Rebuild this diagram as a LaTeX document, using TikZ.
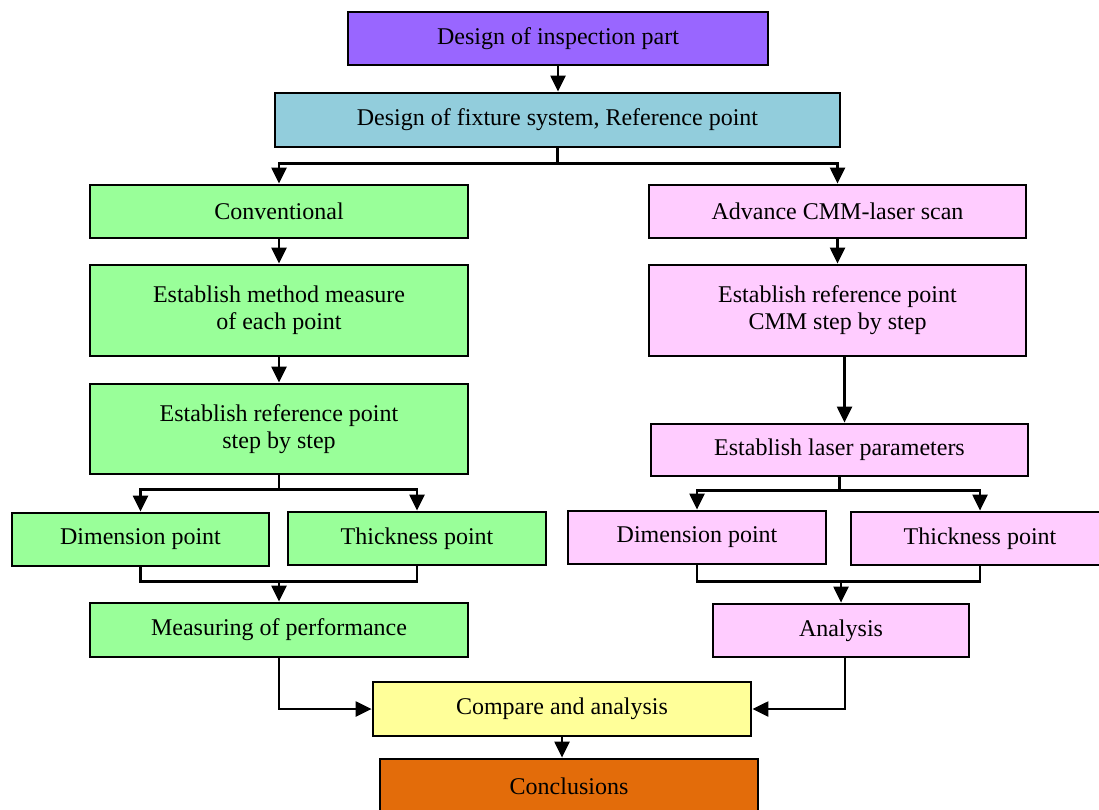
\documentclass[tikz,border=0pt]{standalone}
\usepackage{fontspec}
\setmainfont{Liberation Serif}
\usetikzlibrary{arrows.meta}
\definecolor{cpurple}{HTML}{9966FF}
\definecolor{cblue}{HTML}{92CDDC}
\definecolor{cgreen}{HTML}{99FF99}
\definecolor{cpink}{HTML}{FFCCFF}
\definecolor{cyellow}{HTML}{FFFF99}
\definecolor{corange}{HTML}{E36C0A}
\tikzset{
  box/.style={draw=black, line width=2.8pt, align=center, inner sep=0pt,
    font=\fontsize{24}{27}\selectfont, text=black},
  conn/.style={line width=2.3pt, draw=black},
  arr/.style={conn, -{Triangle[length=16pt,width=15pt]}}
}
\begin{document}
\begin{tikzpicture}[x=1pt,y=-1pt]
\useasboundingbox (0,0) rectangle (1099,810);
\node[box, fill=cpurple, minimum width=420pt, minimum height=53pt] (n1) at (558,38.5) {Design of inspection part};
\node[box, fill=cblue, minimum width=565pt, minimum height=54pt] (n2) at (557.5,120) {Design of fixture system, Reference point};
\node[box, fill=cgreen, minimum width=378pt, minimum height=53pt] (n3) at (279,211.5) {Conventional};
\node[box, fill=cgreen, minimum width=378pt, minimum height=91pt] (n4) at (279,310.5) {Establish method measure\\of each point};
\node[box, fill=cgreen, minimum width=378pt, minimum height=90pt] (n5) at (279,429) {Establish reference point\\step by step};
\node[box, fill=cgreen, minimum width=257pt, minimum height=53pt] (n6) at (140.5,539.5) {Dimension point};
\node[box, fill=cgreen, minimum width=258pt, minimum height=53pt] (n7) at (417,538.5) {Thickness point};
\node[box, fill=cgreen, minimum width=378pt, minimum height=54pt] (n8) at (279,630) {Measuring of performance};
\node[box, fill=cpink, minimum width=377pt, minimum height=53pt] (n9) at (837.5,211.5) {Advance CMM-laser scan};
\node[box, fill=cpink, minimum width=377pt, minimum height=91pt] (n10) at (837.5,310.5) {Establish reference point\\CMM step by step};
\node[box, fill=cpink, minimum width=377pt, minimum height=52pt] (n11) at (839.5,450) {Establish laser parameters};
\node[box, fill=cpink, minimum width=258pt, minimum height=53pt] (n12) at (697,537.5) {Dimension point};
\node[box, fill=cpink, minimum width=258pt, minimum height=53pt] (n13) at (980,538.5) {Thickness point};
\node[box, fill=cpink, minimum width=256pt, minimum height=53pt] (n14) at (841,630.5) {Analysis};
\node[box, fill=cyellow, minimum width=378pt, minimum height=54pt] (n15) at (562,709) {Compare and analysis};
\node[box, fill=corange, minimum width=378pt, minimum height=54pt] (n16) at (569,786) {Conclusions};
% connectors
\draw[arr] (n1.south) -- (n1.south |- n2.north);
\draw[arr] (n2.south) -- ++(0,15) -| (n3.north);
\draw[arr] (n2.south) -- ++(0,15) -| (n9.north);
\draw[arr] (n3.south) -- (n4.north);
\draw[arr] (n4.south) -- (n5.north);
\draw[arr] (n5.south) -- ++(0,14) -| (n6.north);
\draw[arr] (n5.south) -- ++(0,14) -| (n7.north);
\draw[conn] (n6.south) -- ++(0,14) coordinate (m1) -| (n7.south);
\draw[arr] (m1 -| n8.north) -- (n8.north);
\draw[arr] (n8.south) |- (n15.west);
\draw[arr] (n9.south) -- (n10.north);
\draw[arr] ([xshift=7pt]n10.south) -- ([xshift=7pt]n10.south |- n11.north);
\draw[arr] (n11.south) -- ++(0,13) -| (n12.north);
\draw[arr] (n11.south) -- ++(0,13) -| (n13.north);
\draw[conn] (n12.south) -- ++(0,16) coordinate (m2) -| (n13.south);
\draw[arr] (m2 -| n14.north) -- (n14.north);
\draw[arr] ([xshift=4pt]n14.south) |- (n15.east);
\draw[arr] (n15.south) -- (n15.south |- n16.north);
\end{tikzpicture}
\end{document}
